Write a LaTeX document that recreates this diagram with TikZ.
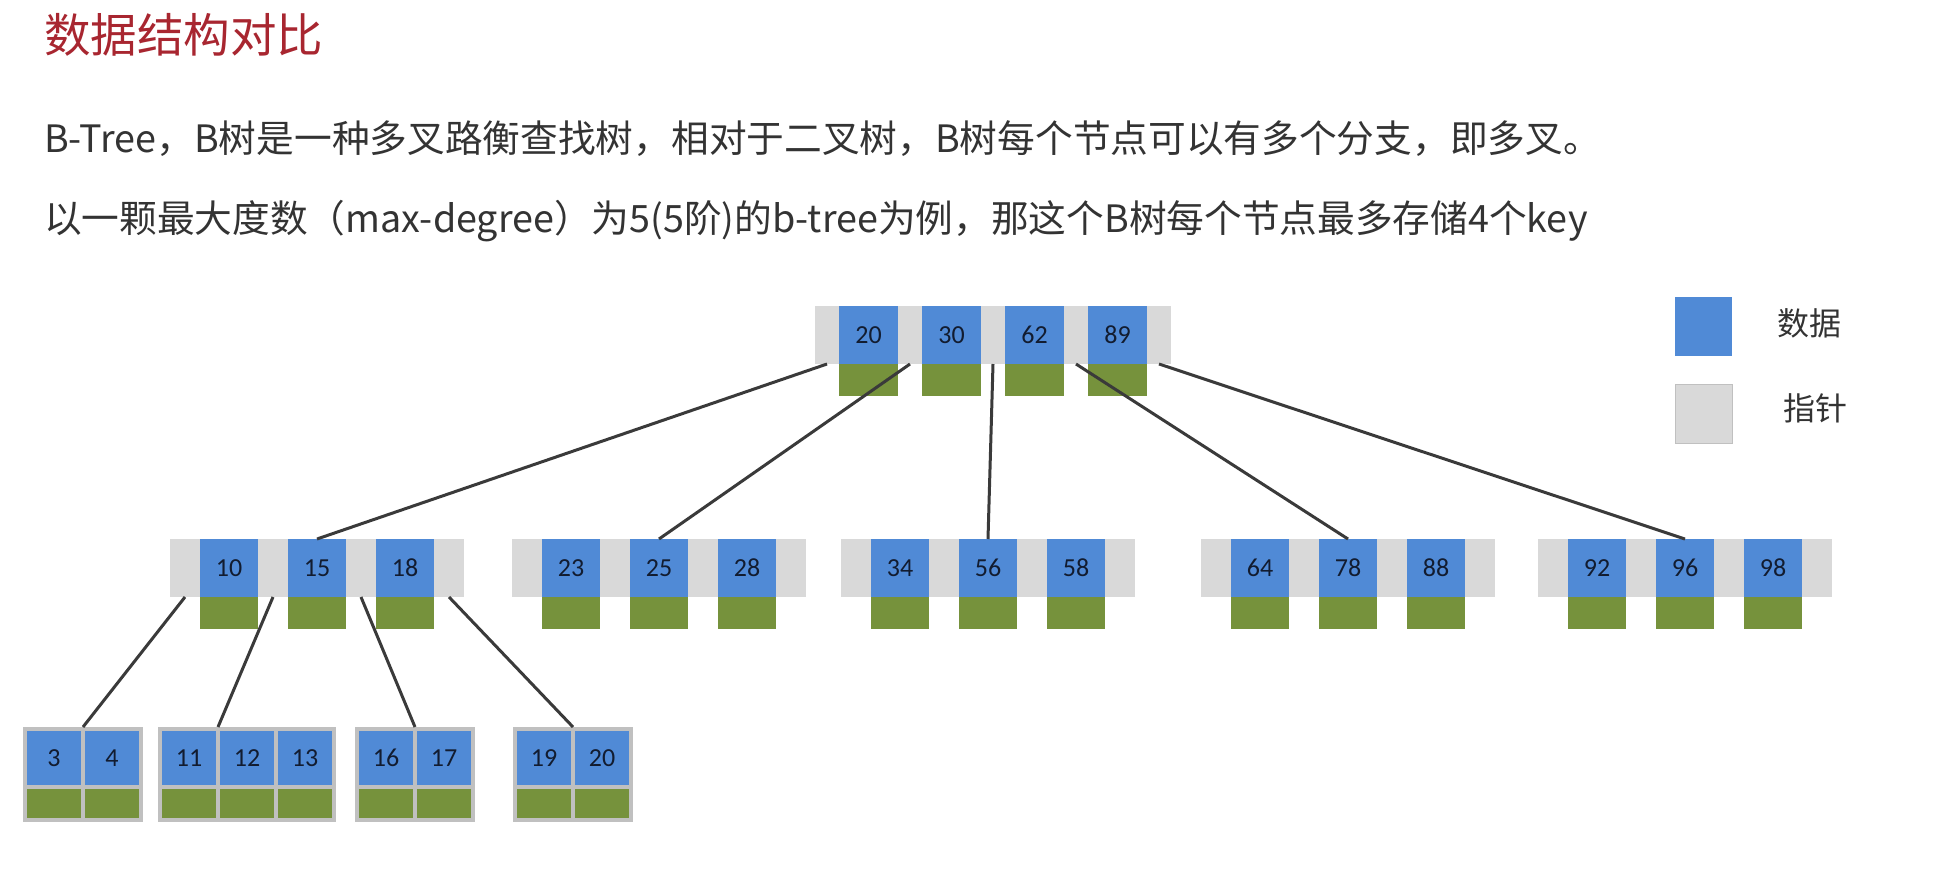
\documentclass[tikz,border=0pt]{standalone}
\usepackage{fontspec}
\setmainfont{Noto Sans CJK SC}
\newfontfamily\numfont{Carlito}
\usetikzlibrary{positioning}
\definecolor{titlered}{RGB}{168,38,48}
\definecolor{bodygray}{RGB}{51,51,51}
\definecolor{keyblue}{RGB}{80,138,214}
\definecolor{ptrgray}{RGB}{217,217,217}
\definecolor{datgreen}{RGB}{118,146,60}
\definecolor{framegray}{RGB}{192,192,192}
\definecolor{numtext}{RGB}{18,28,48}
\definecolor{linegray}{RGB}{58,58,58}

\begin{document}
\begin{tikzpicture}[
    x=1pt,y=-1pt,every node/.style={inner sep=0pt, outer sep=0pt},
    ptr/.style={fill=ptrgray, minimum width=30pt, minimum height=58pt},
    key/.style={fill=keyblue, minimum width=58pt, minimum height=58pt,
        font=\numfont\fontsize{26}{26}\selectfont, text=numtext},
    dat/.style={fill=datgreen, minimum width=58pt, minimum height=32pt},
    leafbox/.style={fill=framegray, minimum height=95pt},
    lkey/.style={fill=keyblue, minimum width=54pt, minimum height=54pt,
        font=\numfont\fontsize{26}{26}\selectfont, text=numtext},
    ldat/.style={fill=datgreen, minimum width=54pt, minimum height=29pt},
    edge/.style={draw=linegray, line width=3pt}
]
    \useasboundingbox (0,0) rectangle (1935,892);

    % texts
    \node[anchor=west, text=titlered, font=\fontsize{46.5}{46.5}\selectfont] (title) at (44,35) {数据结构对比};
    \node[anchor=west, text=bodygray, font=\fontsize{37.7}{37.7}\selectfont] (line1) at (44,139)
        {B-Tree，B树是一种多叉路衡查找树，相对于二叉树，B树每个节点可以有多个分支，即多叉。};
    \node[anchor=west, text=bodygray, font=\fontsize{37.7}{37.7}\selectfont] (line2) at (44,221)
        {以一颗最大度数（max-degree）为5(5阶)的b-tree为例，那这个B树每个节点最多存储4个key};

    % root
    \node[ptr, minimum width=24pt] (r0) at (827,335) {};
    \node[key, minimum width=59pt, right=0pt of r0] (k20) {20};
    \node[ptr, minimum width=24pt, right=0pt of k20] (r1) {};
    \node[key, minimum width=59pt, right=0pt of r1] (k30) {30};
    \node[ptr, minimum width=24pt, right=0pt of k30] (r2) {};
    \node[key, minimum width=59pt, right=0pt of r2] (k62) {62};
    \node[ptr, minimum width=24pt, right=0pt of k62] (r3) {};
    \node[key, minimum width=59pt, right=0pt of r3] (k89) {89};
    \node[ptr, minimum width=24pt, right=0pt of k89] (r4) {};
    \node[dat, minimum width=59pt, below=0pt of k20] (g20) {};
    \node[dat, minimum width=59pt, below=0pt of k30] (g30) {};
    \node[dat, minimum width=59pt, below=0pt of k62] (g62) {};
    \node[dat, minimum width=59pt, below=0pt of k89] (g89) {};

    % second level
    \foreach \n/\x/\a/\b/\c in {a/170/10/15/18, b/512/23/25/28, c/841/34/56/58,
                                d/1201/64/78/88, e/1538/92/96/98} {
        \node[ptr] (\n0) at (\x+15,568) {};
        \node[key, right=0pt of \n0] (k\a) {\a};
        \node[ptr, right=0pt of k\a] (\n1) {};
        \node[key, right=0pt of \n1] (k\b) {\b};
        \node[ptr, right=0pt of k\b] (\n2) {};
        \node[key, right=0pt of \n2] (k\c) {\c};
        \node[ptr, right=0pt of k\c] (\n3) {};
        \node[dat, below=0pt of k\a] (g\a) {};
        \node[dat, below=0pt of k\b] (g\b) {};
        \node[dat, below=0pt of k\c] (g\c) {};
    }

    % leaves
    \node[leafbox, minimum width=120pt] (leafa) at (83,774.5) {};
    \node[lkey] (l3) at (54,758) {3};
    \node[lkey, right=4pt of l3] (l4) {4};

    \node[leafbox, minimum width=178pt] (leafb) at (247,774.5) {};
    \node[lkey] (l11) at (189,758) {11};
    \node[lkey, right=4pt of l11] (l12) {12};
    \node[lkey, right=4pt of l12] (l13) {13};

    \node[leafbox, minimum width=120pt] (leafc) at (415,774.5) {};
    \node[lkey] (l16) at (386,758) {16};
    \node[lkey, right=4pt of l16] (l17) {17};

    \node[leafbox, minimum width=120pt] (leafd) at (573,774.5) {};
    \node[lkey] (l19) at (544,758) {19};
    \node[lkey, right=4pt of l19] (l20) {20};

    \foreach \k in {3,4,11,12,13,16,17,19,20}
        \node[ldat, below=4pt of l\k] (h\k) {};

    % legend
    \node[fill=keyblue, minimum width=57pt, minimum height=59pt] (legkey) at (1703.5,326.5) {};
    \node[fill=ptrgray, draw=framegray, minimum width=57pt, minimum height=59pt] (legptr) at (1703.5,414) {};
    \node[anchor=west, text=bodygray, font=\fontsize{32}{32}\selectfont] (legkeytxt) at (1777,323) {数据};
    \node[anchor=west, text=bodygray, font=\fontsize{32}{32}\selectfont] (legptrtxt) at (1783,408) {指针};

    \draw[edge] (r0.south) -- (k15.north);
    \draw[edge] (r1.south) -- (k25.north);
    \draw[edge] (r2.south) -- (k56.north);
    \draw[edge] (r3.south) -- (k78.north);
    \draw[edge] (r4.south) -- (k96.north);

    \draw[edge] (a0.south) -- ([xshift=2pt]l3.east |- leafa.north);
    \draw[edge] (a1.south) -- ([xshift=2pt]l11.east |- leafb.north);
    \draw[edge] (a2.south) -- ([xshift=2pt]l16.east |- leafc.north);
    \draw[edge] (a3.south) -- ([xshift=2pt]l19.east |- leafd.north);
\end{tikzpicture}
\end{document}
